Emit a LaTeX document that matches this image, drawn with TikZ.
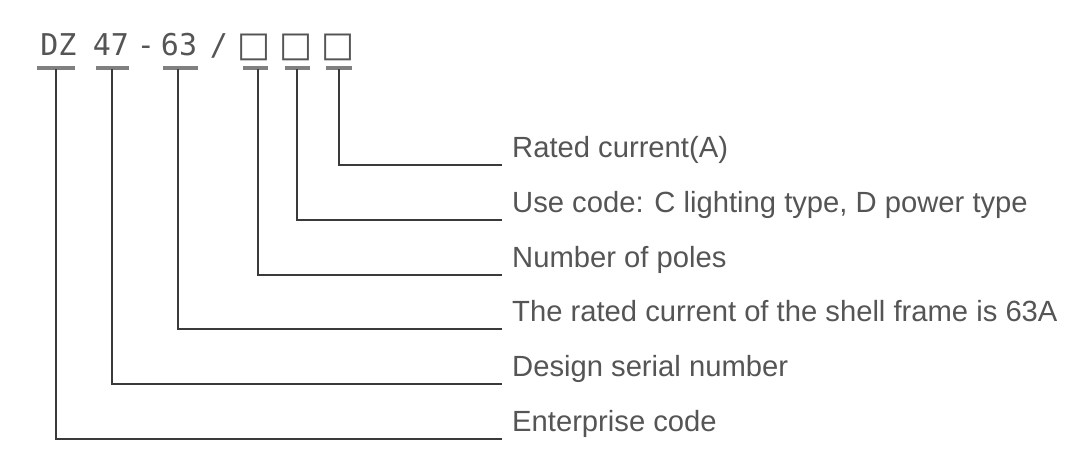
\documentclass[tikz,border=0pt]{standalone}
\usepackage{fontspec}
\setmainfont{Liberation Sans}
\newfontfamily\codefont{DejaVu Sans Mono}
\newfontfamily\boxfont{DejaVu Sans}
\definecolor{txt}{HTML}{555555}
\definecolor{ln}{HTML}{3A3A3A}
\definecolor{ul}{HTML}{808080}
\begin{document}
\begin{tikzpicture}[x=1pt,y=-1pt,
  code/.style={anchor=base,inner sep=0pt,text=txt,font=\codefont\fontsize{30}{30}\selectfont},
  sq/.style={anchor=base,inner sep=0pt,text=txt,font=\boxfont\fontsize{35}{35}\selectfont},
  lab/.style={anchor=base west,inner sep=0pt,text=txt,font=\fontsize{29.2}{29.2}\selectfont},
  under/.style={draw=ul,line width=4pt},
  conn/.style={draw=ln,line width=1.5pt}]
\useasboundingbox (0,0) rectangle (1087,461);
\fill[white] (0,0) rectangle (1087,461);
% top code
\node[code] (dz) at (58.5,55) {DZ};
\node[code] (n47) at (111,55) {47};
\node[code] (dash) at (146,55) {-};
\node[code] (n63) at (179,55) {63};
\node[code] (slash) at (219,55) {/};
\node[sq] (b1) at (254,56) {□};
\node[sq] (b2) at (296,56) {□};
\node[sq] (b3) at (338.5,56) {□};
% underlines
\draw[under] (37,67.5) -- (75,67.5);
\draw[under] (96,67.5) -- (129,67.5);
\draw[under] (163,67.5) -- (198,67.5);
\draw[under] (243,67.5) -- (268,67.5);
\draw[under] (285,67.5) -- (310,67.5);
\draw[under] (326,67.5) -- (352,67.5);
% anchor points under each code part
\coordinate (s1) at (56,69);
\coordinate (s2) at (112,69);
\coordinate (s3) at (178,69);
\coordinate (s4) at (258,69);
\coordinate (s5) at (297,69);
\coordinate (s6) at (339,69);
% labels
\node[lab] (l6) at (512,157) {Rated current(A)};
\node[lab] (l5) at (512,212) {Use code: C lighting type, D power type};
\node[lab] (l4) at (512,267) {Number of poles};
\node[lab] (l3) at (512,321) {The rated current of the shell frame is 63A};
\node[lab] (l2) at (512,376) {Design serial number};
\node[lab] (l1) at (512,431) {Enterprise code};
% connectors
\draw[conn] (s6) |- ([xshift=-10pt,yshift=-8pt]l6.base west);
\draw[conn] (s5) |- ([xshift=-10pt,yshift=-8pt]l5.base west);
\draw[conn] (s4) |- ([xshift=-10pt,yshift=-8pt]l4.base west);
\draw[conn] (s3) |- ([xshift=-10pt,yshift=-8pt]l3.base west);
\draw[conn] (s2) |- ([xshift=-10pt,yshift=-8pt]l2.base west);
\draw[conn] (s1) |- ([xshift=-10pt,yshift=-8pt]l1.base west);
\end{tikzpicture}
\end{document}
